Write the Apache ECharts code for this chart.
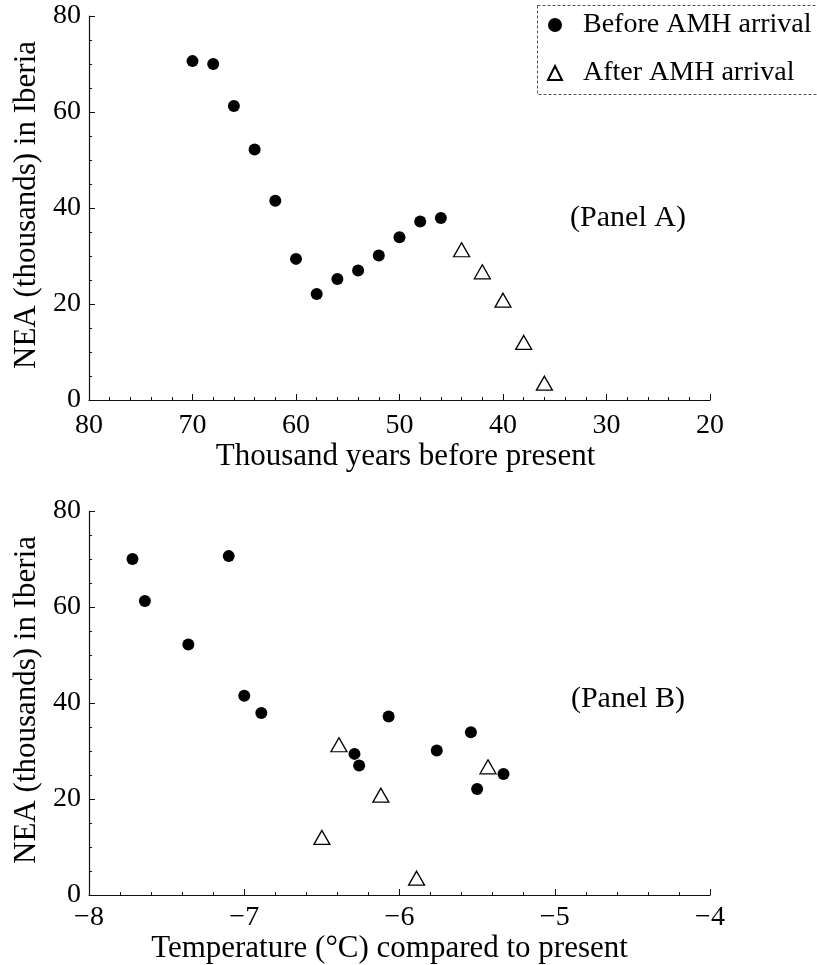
<!DOCTYPE html>
<html>
<head>
<meta charset="utf-8">
<title>Neanderthal population in Iberia</title>
<script src="https://cdn.jsdelivr.net/npm/echarts@6/dist/echarts.min.js"></script>
<style>
  html, body { margin: 0; padding: 0; background: #fff; }
  #chart { width: 817px; height: 965px; }
</style>
</head>
<body>
<div id="chart"></div>
<script>
// Thousand years before present, split at the arrival of anatomically modern humans
var yearsBefore = [70, 68, 66, 64, 62, 60, 58, 56, 54, 52, 50, 48, 46];
var yearsAfter = [44, 42, 40, 38, 36];

// Neanderthal population (thousands) in Iberia
var neaBefore = [70.6, 70.0, 61.25, 52.2, 41.5, 29.4, 22.1, 25.2, 27.0, 30.1, 33.9, 37.2, 37.9];
var neaAfter = [31.3, 26.7, 20.8, 12.0, 3.5];

// Temperature (°C) relative to present for the same time steps
var tempBefore = [-7.10, -7.72, -7.64, -7.36, -7.00, -6.29, -5.50, -5.33, -6.26, -5.76, -5.54, -6.07, -6.89];
var tempAfter = [-6.39, -5.43, -6.12, -6.50, -5.89];

// Axis ticks
var yearTicks = { min: 20, max: 80, interval: 10 };
var tempTicks = { min: -8, max: -4, interval: 1 };
var neaTicks = { min: 0, max: 80, interval: 20 };

var legendBefore = 'Before AMH arrival';
var legendAfter = 'After AMH arrival';

var FONT = 'Liberation Serif';
var INK = '#000';

function pairs(xs, ys) {
  return xs.map(function (x, i) { return [x, ys[i]]; });
}

function minusSign(v) {
  return String(v).replace('-', '\u2212');
}

function valueAxis(extra) {
  var base = {
    type: 'value',
    axisLine: { show: true, lineStyle: { color: '#111', width: 1.2 } },
    axisTick: { show: true, inside: true, length: 6, lineStyle: { color: '#111', width: 1 } },
    minorTick: { show: true, length: 3, lineStyle: { color: '#111', width: 1 } },
    splitLine: { show: false },
    minorSplitLine: { show: false },
    axisLabel: { color: INK, fontFamily: FONT, fontSize: 28, padding: [0, 1, 0, 1], formatter: minusSign },
    nameTextStyle: { color: INK, fontFamily: FONT, fontSize: 31, padding: [0, 0, 0, 0] }
  };
  for (var k in extra) {
    if (typeof extra[k] === 'object' && base[k] && !Array.isArray(extra[k])) {
      base[k] = Object.assign({}, base[k], extra[k]);
    } else {
      base[k] = extra[k];
    }
  }
  return base;
}

var circleStyle = { color: INK, opacity: 1 };
var triangleStyle = { color: 'rgba(255,255,255,0)', borderColor: INK, borderWidth: 1.3, opacity: 1 };

var chart = echarts.init(document.getElementById('chart'), null, { renderer: 'canvas' });

chart.setOption({
  animation: false,
  backgroundColor: '#fff',
  textStyle: { fontFamily: FONT, color: INK },
  grid: [
    { left: 89, top: 16, width: 621, height: 384 },
    { left: 89, top: 511, width: 621, height: 384 }
  ],
  xAxis: [
    valueAxis({
      gridIndex: 0,
      min: yearTicks.min, max: yearTicks.max, interval: yearTicks.interval,
      inverse: true,
      minorTick: { splitNumber: 5 },
      axisLabel: { margin: 12 },
      name: 'Thousand years before present',
      nameLocation: 'middle',
      nameGap: 39,
      nameTextStyle: { padding: [0, 0, 0, 12] }
    }),
    valueAxis({
      gridIndex: 1,
      min: tempTicks.min, max: tempTicks.max, interval: tempTicks.interval,
      minorTick: { splitNumber: 5 },
      axisLabel: { margin: 9 },
      name: 'Temperature (\u00B0C) compared to present',
      nameLocation: 'middle',
      nameGap: 36,
      nameTextStyle: { padding: [0, 20, 0, 0] }
    })
  ],
  yAxis: [
    valueAxis({
      gridIndex: 0,
      min: neaTicks.min, max: neaTicks.max, interval: neaTicks.interval,
      minorTick: { splitNumber: 4 },
      axisLabel: { margin: 7 },
      name: 'NEA (thousands) in Iberia',
      nameLocation: 'middle',
      nameGap: 45,
      nameTextStyle: { padding: [0, 0, 0, 6] }
    }),
    valueAxis({
      gridIndex: 1,
      min: neaTicks.min, max: neaTicks.max, interval: neaTicks.interval,
      minorTick: { splitNumber: 4 },
      axisLabel: { margin: 7 },
      name: 'NEA (thousands) in Iberia',
      nameLocation: 'middle',
      nameGap: 45,
      nameTextStyle: { padding: [0, 0, 0, 6] }
    })
  ],
  legend: {
    data: [legendBefore, legendAfter],
    orient: 'vertical',
    left: 537,
    top: 5,
    padding: [6, 10, 8, 10],
    itemGap: 20,
    itemWidth: 14,
    itemHeight: 14,
    textStyle: { color: INK, fontFamily: FONT, fontSize: 28, lineHeight: 28, padding: [0, 0, 0, 16] }
  },
  graphic: [
    {
      // dashed frame around the legend, running off the right edge
      type: 'rect', silent: true,
      shape: { x: 537.5, y: 5.5, width: 320, height: 89 },
      style: { fill: 'none', stroke: '#555', lineWidth: 1, lineDash: [3, 2] }
    },
    {
      type: 'text', x: 628, y: 218,
      style: { text: '(Panel A)', fill: INK, font: '30px ' + FONT, align: 'center', verticalAlign: 'middle' }
    },
    {
      type: 'text', x: 628, y: 699,
      style: { text: '(Panel B)', fill: INK, font: '30px ' + FONT, align: 'center', verticalAlign: 'middle' }
    }
  ],
  series: [
    {
      name: legendBefore, type: 'scatter', xAxisIndex: 0, yAxisIndex: 0,
      symbol: 'circle', symbolSize: 12, itemStyle: circleStyle,
      emphasis: { disabled: true },
      data: pairs(yearsBefore, neaBefore)
    },
    {
      name: legendAfter, type: 'scatter', xAxisIndex: 0, yAxisIndex: 0,
      symbol: 'triangle', symbolSize: [16, 14], itemStyle: triangleStyle,
      emphasis: { disabled: true },
      data: pairs(yearsAfter, neaAfter)
    },
    {
      name: legendBefore, type: 'scatter', xAxisIndex: 1, yAxisIndex: 1,
      symbol: 'circle', symbolSize: 12, itemStyle: circleStyle,
      emphasis: { disabled: true },
      data: pairs(tempBefore, neaBefore)
    },
    {
      name: legendAfter, type: 'scatter', xAxisIndex: 1, yAxisIndex: 1,
      symbol: 'triangle', symbolSize: [16, 14], itemStyle: triangleStyle,
      emphasis: { disabled: true },
      data: pairs(tempAfter, neaAfter)
    }
  ]
});
</script>
</body>
</html>
